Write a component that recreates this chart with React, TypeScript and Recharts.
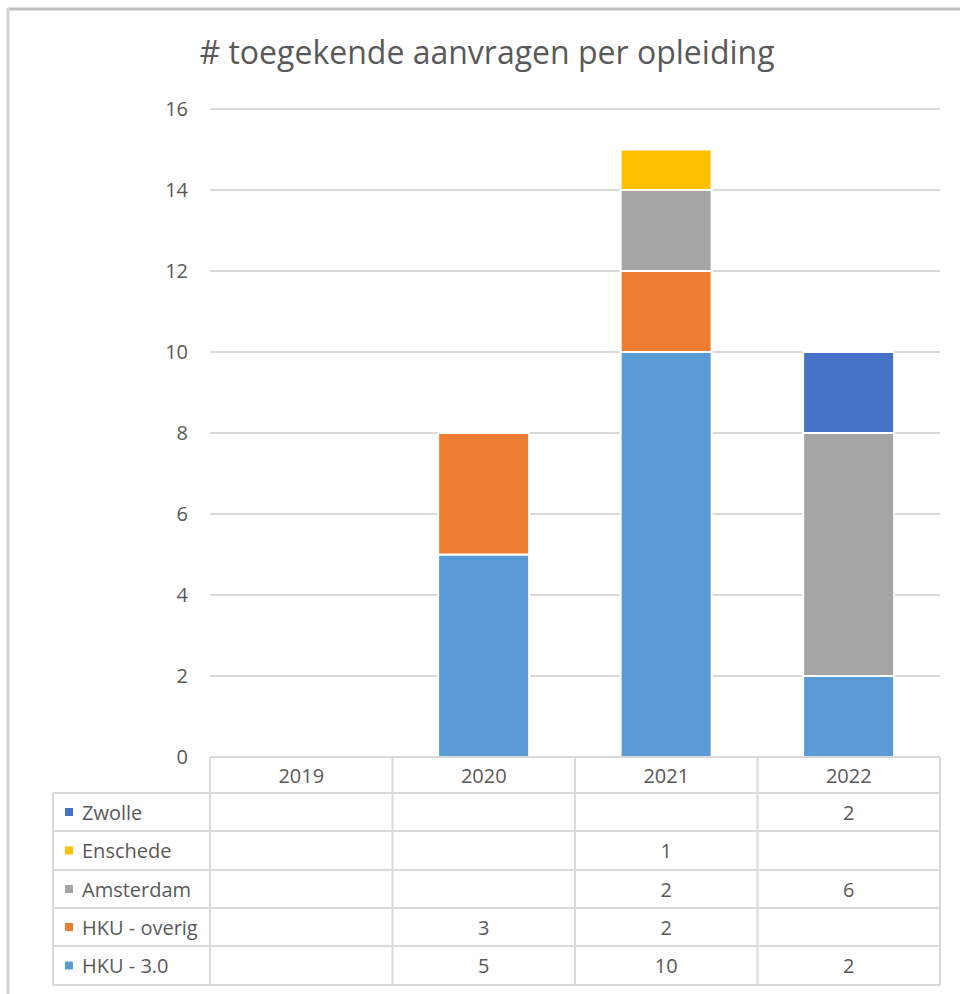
import React from 'react';
import { BarChart, Bar, XAxis, YAxis, CartesianGrid } from 'recharts';

const years = ['2019', '2020', '2021', '2022'];
const hku30 = [null, 5, 10, 2];
const hkuOverig = [null, 3, 2, null];
const amsterdam = [null, null, 2, 6];
const enschede = [null, null, 1, null];
const zwolle = [null, null, null, 2];
const yTicks = [0, 2, 4, 6, 8, 10, 12, 14, 16];
const title = '# toegekende aanvragen per opleiding';

// stacking order bottom -> top
const series = [
  { key: 'hku30', name: 'HKU - 3.0', color: '#5B9BD5', values: hku30 },
  { key: 'hkuOverig', name: 'HKU - overig', color: '#ED7D31', values: hkuOverig },
  { key: 'amsterdam', name: 'Amsterdam', color: '#A5A5A5', values: amsterdam },
  { key: 'enschede', name: 'Enschede', color: '#FFC000', values: enschede },
  { key: 'zwolle', name: 'Zwolle', color: '#4472C4', values: zwolle },
];
// table rows top -> bottom
const tableRows = [...series].reverse();

const data = years.map((y, i) => {
  const row: Record<string, any> = { year: y };
  series.forEach((s) => {
    row[s.key] = s.values[i];
  });
  return row;
});

const W = 960;
const H = 994;
const PLOT_L = 210;
const PLOT_R = 940;
const PLOT_T = 109;
const PLOT_B = 757;
const TABLE_L = 53;
const ROW_Y = [757, 793, 831, 870, 908, 946, 985];
const Y_AXIS_W = 60;
const FONT = '"Open Sans", sans-serif';
const TEXT = '#595959';
const LINE = '#d9d9d9';
const FS = 20;

const rowCenter = (i: number) => (ROW_Y[i] + ROW_Y[i + 1]) / 2;

const TableTick = (props: any) => {
  const { x, payload } = props;
  const idx = years.indexOf(String(payload.value));
  const row = data[idx];
  return (
    <g>
      <text
        x={x}
        y={rowCenter(0)}
        textAnchor="middle"
        dominantBaseline="central"
        fill={TEXT}
        fontSize={FS}
        fontFamily={FONT}
      >
        {payload.value}
      </text>
      {tableRows.map((s, i) =>
        row && row[s.key] != null ? (
          <text
            key={s.key}
            x={x}
            y={rowCenter(i + 1)}
            textAnchor="middle"
            dominantBaseline="central"
            fill={TEXT}
            fontSize={FS}
            fontFamily={FONT}
          >
            {row[s.key]}
          </text>
        ) : null
      )}
    </g>
  );
};

const Overlay = () => {
  const colW = (PLOT_R - PLOT_L) / years.length;
  const cols = years.map((_, i) => PLOT_L + i * colW).concat([PLOT_R]);
  return (
    <svg
      width={W}
      height={H}
      style={{ position: 'absolute', left: 0, top: 0, pointerEvents: 'none' }}
    >
      {/* outer frame */}
      <line x1={8} y1={9} x2={W} y2={9} stroke="#c0c0c0" strokeWidth={3} />
      <line x1={8} y1={8} x2={8} y2={H} stroke="#d4d4d4" strokeWidth={3} />
      <text
        x={487}
        y={64}
        textAnchor="middle"
        fill={TEXT}
        fontSize={32}
        fontFamily={FONT}
      >
        {title}
      </text>
      {/* table lines */}
      <line x1={PLOT_L} y1={ROW_Y[0]} x2={PLOT_R} y2={ROW_Y[0]} stroke={LINE} strokeWidth={2} />
      {ROW_Y.slice(1).map((y) => (
        <line key={y} x1={TABLE_L} y1={y} x2={PLOT_R} y2={y} stroke={LINE} strokeWidth={2} />
      ))}
      <line x1={TABLE_L} y1={ROW_Y[1]} x2={TABLE_L} y2={ROW_Y[ROW_Y.length - 1]} stroke={LINE} strokeWidth={2} />
      {cols.map((cx) => (
        <line key={cx} x1={cx} y1={ROW_Y[0]} x2={cx} y2={ROW_Y[ROW_Y.length - 1]} stroke={LINE} strokeWidth={2} />
      ))}
      {tableRows.map((s, i) => (
        <g key={s.key}>
          <rect x={65} y={rowCenter(i + 1) - 4} width={8} height={8} fill={s.color} />
          <text
            x={82}
            y={rowCenter(i + 1)}
            dominantBaseline="central"
            fill={TEXT}
            fontSize={FS}
            fontFamily={FONT}
          >
            {s.name}
          </text>
        </g>
      ))}
    </svg>
  );
};

export default function App() {
  return (
    <div style={{ position: 'absolute', left: 0, top: 0, width: W, height: H, background: '#fff' }}>
      <BarChart
        width={W}
        height={H}
        data={data}
        margin={{ top: PLOT_T, right: W - PLOT_R, bottom: 8, left: PLOT_L - Y_AXIS_W }}
        barCategoryGap="25%"
      >
        <CartesianGrid vertical={false} stroke={LINE} strokeWidth={2} />
        <YAxis
          width={Y_AXIS_W}
          domain={[0, 16]}
          ticks={yTicks}
          interval={0}
          axisLine={false}
          tickLine={false}
          tickMargin={16}
          tick={{ fill: TEXT, fontSize: FS, fontFamily: FONT }}
        />
        <XAxis
          dataKey="year"
          height={H - 8 - PLOT_B}
          axisLine={false}
          tickLine={false}
          interval={0}
          tick={<TableTick />}
        />
        {series.map((s) => (
          <Bar
            key={s.key}
            dataKey={s.key}
            name={s.name}
            stackId="a"
            fill={s.color}
            stroke="#ffffff"
            strokeWidth={2}
            isAnimationActive={false}
          />
        ))}
      </BarChart>
      <Overlay />
    </div>
  );
}
